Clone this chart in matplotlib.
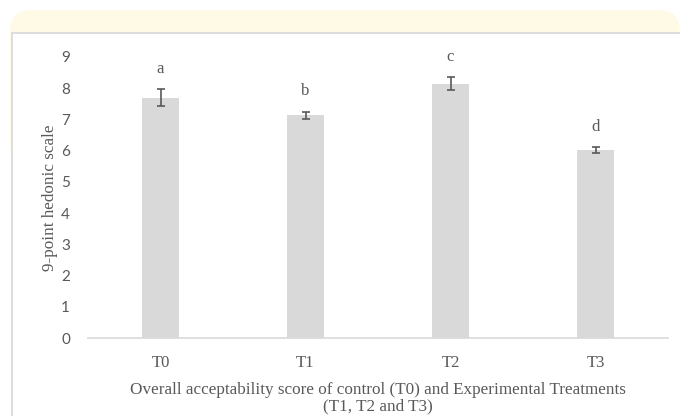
import matplotlib
import matplotlib.pyplot as plt
from matplotlib.patches import FancyBboxPatch, Rectangle

matplotlib.rcParams["font.family"] = ["Liberation Serif", "DejaVu Serif"]

treatments = ["T0", "T1", "T2", "T3"]
scores = [7.70, 7.13, 8.15, 6.03]
errors = [0.26, 0.12, 0.20, 0.09]
letters = ["a", "b", "c", "d"]
yticks = list(range(0, 10))

TEXT = "#595959"
BAR = "#d9d9d9"

fig = plt.figure(figsize=(6.8, 4.16), dpi=100, facecolor="white")

# page decoration: cream rounded header strip behind a white bordered panel
header = FancyBboxPatch((10, 250), 670, 156, boxstyle="round,pad=0,rounding_size=22",
                        transform=None, facecolor="#fffae6", edgecolor="none", zorder=-3)
panel = Rectangle((12, -10), 700, 393, transform=None, facecolor="white",
                  edgecolor="#dadada", linewidth=1.3, zorder=-2)
fig.patches.extend([header, panel])

ax = fig.add_axes([88 / 680, 78 / 416, 580 / 680, 281 / 416])
ax.patch.set_visible(False)

x = range(len(treatments))
ax.bar(x, scores, width=0.25, color=BAR, zorder=2)
ax.errorbar(x, scores, yerr=errors, fmt="none", ecolor="#595959",
            elinewidth=1.2, capsize=3.2, capthick=1.2, zorder=3)

for i, (s, e, lab) in enumerate(zip(scores, errors, letters)):
    ax.text(i, s + e + 0.65, lab, ha="center", va="center", fontsize=12, color=TEXT)

ax.set_xlim(-0.5, 3.5)
ax.set_ylim(0, 9)
ax.set_xticks(list(x))
ax.set_xticklabels(treatments, fontsize=12, color=TEXT)
ax.set_yticks(yticks)
ax.set_yticklabels([str(t) for t in yticks], fontsize=11, color=TEXT, family="Lato")
ax.tick_params(axis="both", length=0)
ax.tick_params(axis="y", pad=13)
ax.tick_params(axis="x", pad=12)

for side in ["top", "right", "left"]:
    ax.spines[side].set_visible(False)
ax.spines["bottom"].set_color(BAR)
ax.spines["bottom"].set_linewidth(1.2)

ax.set_ylabel("9-point hedonic scale", fontsize=12.3, color=TEXT, labelpad=2)
ax.set_xlabel("Overall acceptability score of control (T0) and Experimental Treatments\n(T1, T2 and T3)",
              fontsize=12.3, color=TEXT, labelpad=8, linespacing=1.08)

fig.savefig("out.png", dpi=100)
